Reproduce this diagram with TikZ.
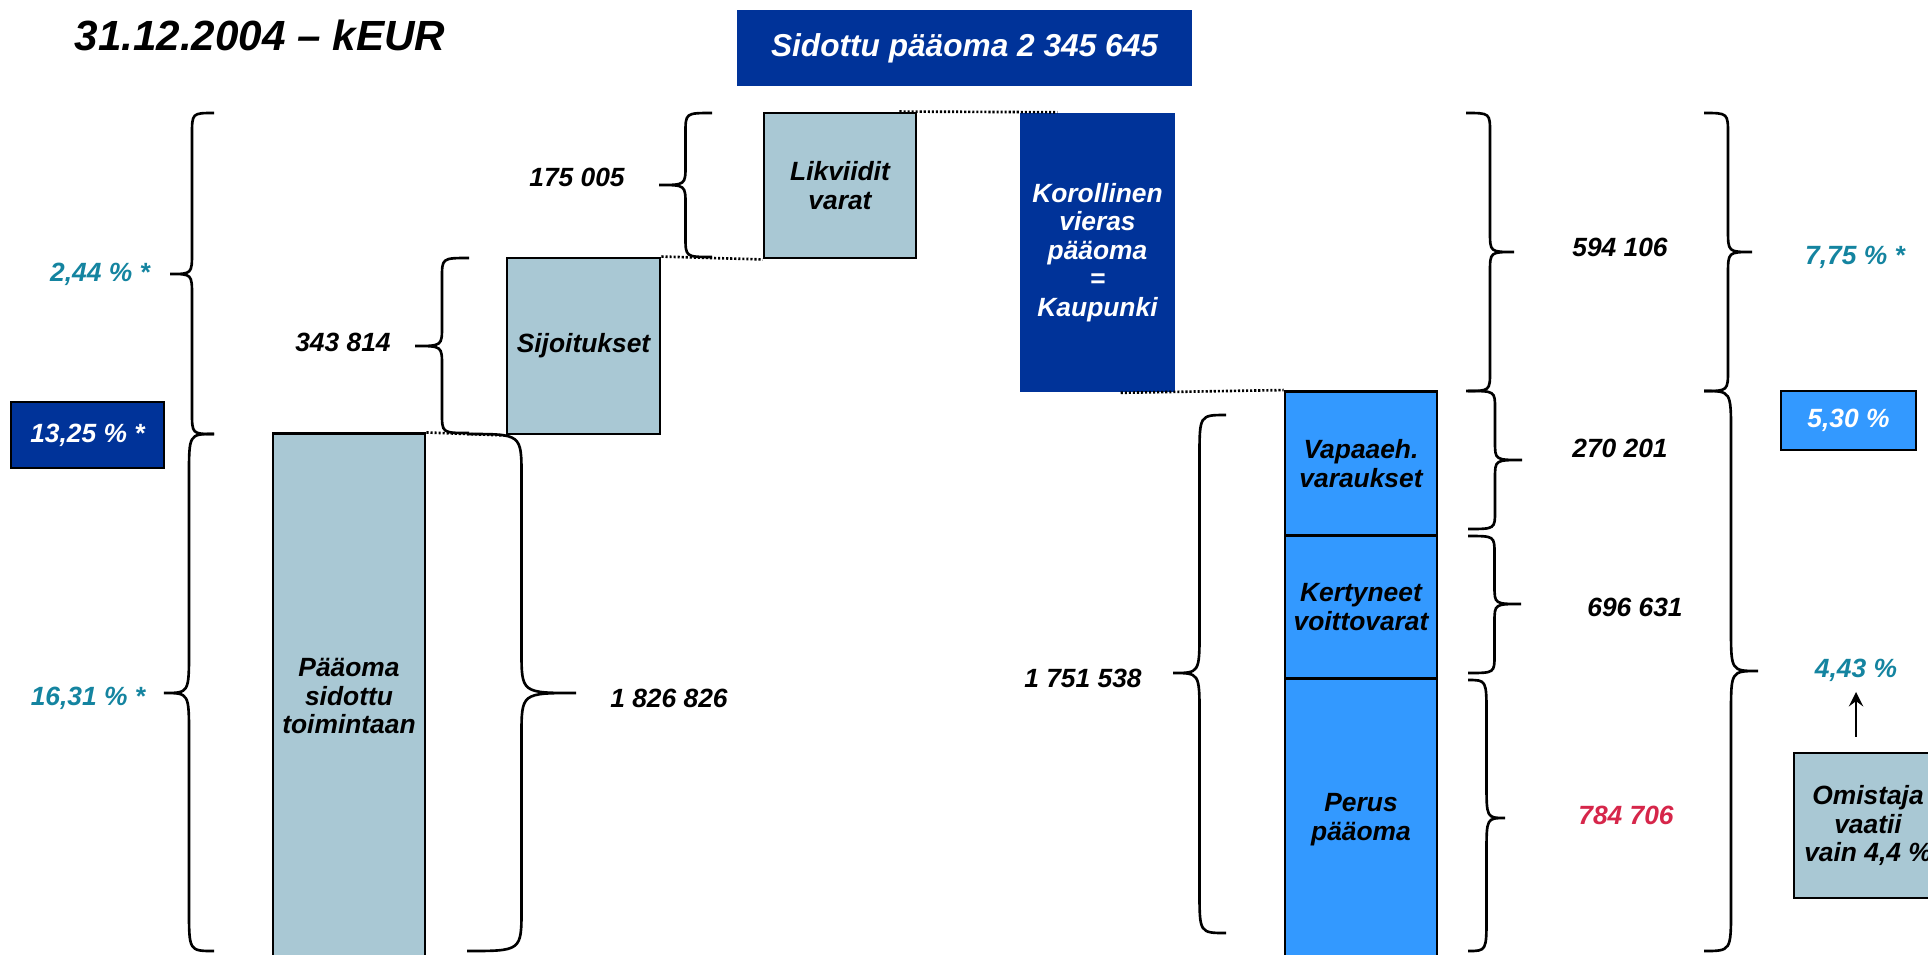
\documentclass[tikz,border=0pt]{standalone}
\usepackage{fontspec}
\setmainfont{Liberation Sans}
\usepackage{xcolor}
\usetikzlibrary{shapes,arrows,positioning,calc}

\definecolor{kaupblue}{RGB}{0,51,153}
\definecolor{greyblue}{RGB}{169,200,212}
\definecolor{skyblue}{RGB}{51,153,255}
\definecolor{ratecol}{RGB}{20,132,160}
\definecolor{redval}{RGB}{214,38,74}

\newcommand{\lblfont}{\fontsize{7.5}{8.1}\selectfont\bfseries\itshape}

% curly brace: end x, top y, bottom y, tip x, tip y, curl
\newcommand{\drawcurly}[6]{%
  \pgfmathsetmacro{\xmid}{(#1+#4)/2}
  \draw[curly] (#1,#2) .. controls (\xmid,#2) .. (\xmid,#2+#6) -- (\xmid,#5-#6)
    .. controls (\xmid,#5) .. (#4,#5) .. controls (\xmid,#5) .. (\xmid,#5+#6)
    -- (\xmid,#3-#6) .. controls (\xmid,#3) .. (#1,#3);
}

\begin{document}
\begin{tikzpicture}[
    x=0.01cm, y=-0.01cm,
    greybar/.style={rectangle, draw, line width=0.8pt, fill=greyblue, inner sep=0pt, align=center, font=\lblfont},
    bluebar/.style={greybar, fill=skyblue},
    navybox/.style={rectangle, fill=kaupblue, text=white, inner sep=0pt, align=center, font=\lblfont},
    amount/.style={inner sep=0pt, font=\lblfont},
    rate/.style={amount, text=ratecol},
    dotline/.style={line width=0.75pt, dash pattern=on 0.6pt off 0.55pt},
    curly/.style={line width=0.75pt},
    arrow/.style={->, >=stealth, line width=0.8pt}
  ]
  \useasboundingbox (0,0) rectangle (1928,954);
  \clip (0,0) rectangle (1928,954);

  % Title
  \node[font=\fontsize{12}{14}\selectfont\bfseries\itshape] (title) at (260,35) {31.12.2004 – kEUR};
  \node[navybox, minimum width=4.55cm, minimum height=0.76cm, font=\fontsize{9}{11}\selectfont\bfseries\itshape] (total) at (964.5,48) {Sidottu pääoma 2 345 645};

  % Assets
  \node[greybar, minimum width=1.52cm, minimum height=5.24cm] (paaoma) at (349,696) {Pääoma\\sidottu\\toimintaan};
  \node[greybar, minimum width=1.53cm, minimum height=1.76cm] (sijoitus) at (583.5,346) {Sijoitukset};
  \node[greybar, minimum width=1.52cm, minimum height=1.45cm] (likvidi) at (840,185.5) {Likviidit\\varat};

  % Financing
  \node[navybox, minimum width=1.55cm, minimum height=2.79cm] (korollinen) at (1097.5,252.5) {Korollinen\\vieras\\pääoma\\=\\Kaupunki};
  \node[bluebar, minimum width=1.52cm, minimum height=1.44cm] (vapaa) at (1361,463.5) {Vapaaeh.\\varaukset};
  \node[bluebar, minimum width=1.52cm, minimum height=1.43cm] (kertyneet) at (1361,607) {Kertyneet\\voittovarat};
  \node[bluebar, minimum width=1.52cm, minimum height=2.82cm] (perus) at (1361,819.5) {Perus\\pääoma};

  % Dotted steps
  \draw[dotline] (paaoma.north east) -- (sijoitus.south west);
  \draw[dotline] (sijoitus.north east) -- (likvidi.south west);
  \draw[dotline] ([xshift=-0.18cm]likvidi.north east) -- ([xshift=0.38cm]korollinen.north west);
  \draw[dotline] ([xshift=-0.55cm]korollinen.south east) -- (vapaa.north west);

  % Braces
  \drawcurly{214}{113}{434}{170}{274}{22}
  \drawcurly{214}{434}{951}{164}{693}{42}
  \drawcurly{467}{434}{951}{576}{693}{42}
  \drawcurly{469}{258}{433}{415}{346}{20}
  \drawcurly{712}{113}{257}{659}{185}{20}
  \drawcurly{1226}{415}{933}{1173}{673}{42}
  \drawcurly{1466}{113}{391}{1514}{252}{20}
  \drawcurly{1468}{391}{529}{1522}{460}{18}
  \drawcurly{1468}{536}{673}{1521}{604}{18}
  \drawcurly{1468}{680}{951}{1505}{818}{35}
  \drawcurly{1704}{113}{391}{1752}{252}{22}
  \drawcurly{1704}{391}{951}{1758}{671}{42}

  % Amounts
  \node[amount] (v343) at (343,342) {343 814};
  \node[amount] (v175) at (577,177) {175 005};
  \node[amount] (v1826) at (669,698) {1 826 826};
  \node[amount] (v1751) at (1083,678) {1 751 538};
  \node[amount] (v594) at (1620,247) {594 106};
  \node[amount] (v270) at (1620,448) {270 201};
  \node[amount] (v696) at (1635,607) {696 631};
  \node[amount, text=redval] (v784) at (1626,815) {784 706};

  % Rates
  \node[rate] (r244) at (100,274) {2,44 \% *};
  \node[rate] (r1631) at (88,698) {16,31 \% *};
  \node[rate] (r775) at (1855,257) {7,75 \% *};
  \node[rate] (r443) at (1856,670) {4,43 \%};
  \node[navybox, draw=black, line width=0.8pt, minimum width=1.53cm, minimum height=0.66cm] (r1325) at (87.5,435) {13,25 \% *};
  \node[bluebar, text=white, minimum width=1.35cm, minimum height=0.59cm] (r530) at (1848.5,420.5) {5,30 \%};

  % Owner
  \node[greybar, minimum width=1.48cm, minimum height=1.45cm] (omistaja) at (1868,825.5) {Omistaja\\vaatii\\vain 4,4 \%};
  \draw[arrow, shorten <=0.15cm, shorten >=0.1cm] (omistaja.north -| r443.south) -- (r443.south);

\end{tikzpicture}
\end{document}
